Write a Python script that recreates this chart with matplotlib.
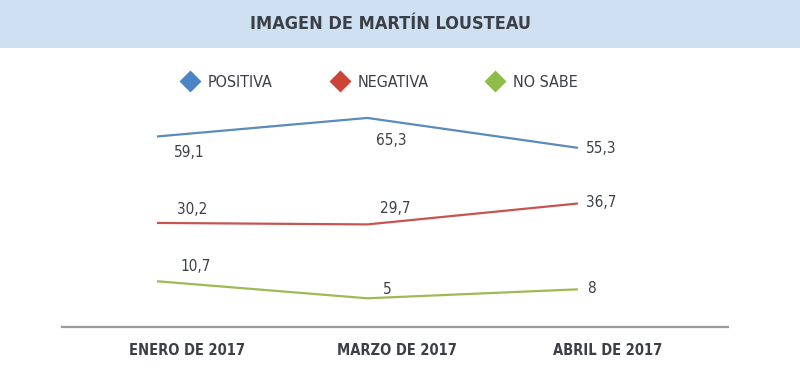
import matplotlib
matplotlib.use("Agg")
import matplotlib.pyplot as plt
from matplotlib.patches import Rectangle
from matplotlib.lines import Line2D

plt.rcParams['font.family'] = ['DejaVu Sans']
plt.rcParams['font.stretch'] = 'condensed'

# data
periods = ["ENERO DE 2017", "MARZO DE 2017", "ABRIL DE 2017"]
series_names = ["POSITIVA", "NEGATIVA", "NO SABE"]
positiva = [59.1, 65.3, 55.3]
negativa = [30.2, 29.7, 36.7]
no_sabe = [10.7, 5, 8]

# style
line_colors = ["#5b8bb9", "#c65450", "#9dbb55"]
marker_colors = ["#4a84c4", "#cc4338", "#8dbd48"]
text_color = "#3b3f47"
# label offsets in pixels (dx, dy, ha) per series / point
label_offsets = [
    [(32, -16, "center"), (24, -23, "center"), (8, -1, "left")],
    [(35, 13, "center"), (28, 16, "center"), (8, 1, "left")],
    [(39, 15, "center"), (20, 9, "center"), (9, 1, "left")],
]


def fmt(v):
    s = f"{v:g}"
    return s.replace(".", ",")


fig = plt.figure(figsize=(8, 3.73), dpi=100)

# title band
fig.patches.append(Rectangle((0, 0.871), 1, 0.129, transform=fig.transFigure,
                             facecolor="#cfe0f2", edgecolor="none", zorder=0))
fig.text(0.488, 0.936, "IMAGEN DE MARTÍN LOUSTEAU", ha="center", va="center",
         fontsize=13, fontweight="bold", color=text_color)

ax = fig.add_axes([62 / 800, 0.1233, 666 / 800, 0.6086])
ax.set_xlim(-0.451, 2.713)
ax.set_ylim(-4.6, 71.3)
for s in ["top", "left", "right"]:
    ax.spines[s].set_visible(False)
ax.spines["bottom"].set_color("#9a9a9a")
ax.spines["bottom"].set_linewidth(1.6)
ax.set_yticks([])
ax.set_xticks([])

xs = list(range(len(periods)))
all_series = [positiva, negativa, no_sabe]
for vals, col, offs in zip(all_series, line_colors, label_offsets):
    ax.plot(xs, vals, color=col, lw=1.6, solid_capstyle="butt")
    for x, v, (dx, dy, ha) in zip(xs, vals, offs):
        ax.annotate(fmt(v), (x, v), xytext=(dx, dy), textcoords="offset pixels",
                    ha=ha, va="center", fontsize=11, color=text_color)

# category labels
for x, p in zip(xs, periods):
    ax.annotate(p, (x, 0), xycoords=("data", "axes fraction"),
                xytext=(30, -23), textcoords="offset pixels",
                ha="center", va="center", fontsize=10.5, fontweight="bold",
                color=text_color)

# legend
handles = [Line2D([], [], marker="D", color="none", markerfacecolor=c,
                  markeredgecolor="none", markersize=11) for c in marker_colors]
fig.legend(handles, series_names, loc="center", bbox_to_anchor=(0.474, 0.78),
           ncol=3, frameon=False, fontsize=11.5, handlelength=1.2,
           handletextpad=0.5, columnspacing=3.6, labelcolor=text_color)

fig.savefig("out.png", dpi=100)
